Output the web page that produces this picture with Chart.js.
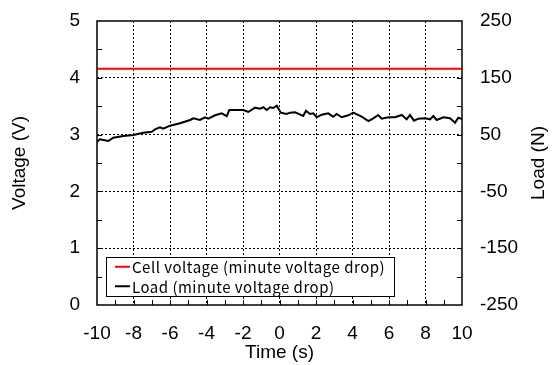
<!DOCTYPE html>
<html>
<head>
<meta charset="utf-8">
<script src="https://cdn.jsdelivr.net/npm/chart.js@4.4.0/dist/chart.umd.min.js"></script>
<style>
html,body{margin:0;padding:0;background:#fff;}
#wrap{width:553px;height:365px;position:relative;}
</style>
</head>
<body>
<div id="wrap"><canvas id="c1"></canvas></div>
<script>
// tick labels
var voltTicks=[0,1,2,3,4,5];
var loadTicks=[-250,-150,-50,50,150,250];
var timeTicks=[-10,-8,-6,-4,-2,0,2,4,6,8,10];

// cell voltage (flat)
var cellTime=[-10,10];
var cellVolt=[4.16,4.16];

// load
var loadTime=[-10,-9.84,-9.38,-9.11,-8.56,-8.01,-7.46,-7.0,-6.82,-6.55,-6.37,-6.0,-5.45,-4.9,-4.72,-4.36,-4.08,-3.9,-3.53,-3.17,
	-2.89,-2.75,-1.98,-1.71,-1.34,-1.07,-0.89,-0.7,-0.52,-0.34,-0.15,0.07,0.39,0.58,0.85,1.3,1.45,1.67,1.85,2.04,
	2.31,2.67,2.95,3.13,3.41,3.77,4.04,4.5,4.87,5.14,5.41,5.6,5.96,6.33,6.7,6.97,7.15,7.37,7.61,7.97,
	8.25,8.43,8.61,8.98,9.34,9.62,9.8,10];
var loadVal=[37.5,41.7,38.7,44.5,47.5,49.3,53.3,55.1,59.3,62.9,60.4,65.7,69.9,75.7,78.7,75.7,80.5,78.0,84.0,87.5,
	82.7,93.3,93.3,89.8,97.4,95.6,98.1,93.3,98.1,96.8,100.9,88.6,86.3,88.6,89.3,82.7,92.1,86.3,87.5,80.5,
	85.0,87.5,81.5,86.3,80.5,84.0,88.6,81.5,73.9,78.7,84.5,78.0,80.5,80.5,84.5,76.9,84.5,74.5,78.0,78.7,
	76.9,82.7,75.7,80.5,78.7,71.0,79.8,77.5];

var axisFont={family:'Arial, "Liberation Sans", sans-serif',size:19};
var rightTitle='Load (N)';

function pts(xs,ys){
	var out=[];
	for(var i=0;i<xs.length;i++){ out.push({x:xs[i],y:ys[i]}); }
	return out;
}
function fixTicks(list){
	return function(s){ s.ticks=list.map(function(v){ return {value:v}; }); };
}
function fixWidth(w){
	return function(s){ s.width=w; s.paddingTop=0; s.paddingBottom=0; };
}
function inner(v,lo,hi){ return (v>lo && v<hi) ? '#000' : 'rgba(0,0,0,0)'; }

// frame, inner tick marks, right title and the legend box
var decor={
	id:'decor',
	afterDraw:function(chart){
		var ctx=chart.ctx, ca=chart.chartArea;
		var ys=chart.scales.y, xs=chart.scales.x;
		ctx.save();
		ctx.strokeStyle='#000';
		ctx.lineWidth=1;
		ctx.beginPath();
		var v;
		for(v=0.5;v<5;v+=0.5){
			var py=Math.round(ys.getPixelForValue(v))+0.5;
			ctx.moveTo(ca.left,py); ctx.lineTo(ca.left+5,py);
			ctx.moveTo(ca.right,py); ctx.lineTo(ca.right-5,py);
		}
		for(v=-9;v<10;v+=1){
			var px=Math.round(xs.getPixelForValue(v))+0.5;
			ctx.moveTo(px,ca.bottom); ctx.lineTo(px,ca.bottom-5);
		}
		ctx.stroke();
		ctx.lineWidth=1.5;
		ctx.strokeRect(ca.left,ca.top,ca.right-ca.left,ca.bottom-ca.top);

		// right axis title, reads bottom to top like the left one
		ctx.save();
		ctx.translate(539,(ca.top+ca.bottom)/2);
		ctx.rotate(-Math.PI/2);
		ctx.font=axisFont.size+'px '+axisFont.family;
		ctx.fillStyle='#000';
		ctx.textAlign='center';
		ctx.textBaseline='middle';
		ctx.fillText(rightTitle,0,0);
		ctx.restore();

		// legend
		var sets=chart.data.datasets;
		ctx.font='15px "Noto Sans CJK JP", sans-serif';
		ctx.letterSpacing='0.5px';
		var tw=0;
		for(var i=0;i<sets.length;i++){ tw=Math.max(tw,ctx.measureText(sets[i].label).width); }
		var rowH=19.5;
		var bw=26+tw+9, bh=rowH*sets.length;
		var bx=ca.left+9, by=ca.bottom-9-bh;
		ctx.fillStyle='#fff';
		ctx.fillRect(bx,by,bw,bh);
		ctx.lineWidth=1;
		ctx.strokeRect(Math.round(bx)+0.5,Math.round(by)+0.5,Math.round(bw),Math.round(bh));
		ctx.textBaseline='middle';
		for(i=0;i<sets.length;i++){
			var cy=by+rowH*i+rowH/2;
			ctx.strokeStyle=sets[i].borderColor;
			ctx.lineWidth=2;
			ctx.beginPath();
			ctx.moveTo(bx+9,cy); ctx.lineTo(bx+24,cy);
			ctx.stroke();
			ctx.fillStyle='#000';
			ctx.fillText(sets[i].label,bx+26,cy+1);
		}
		ctx.restore();
	}
};

var ctx1=document.getElementById('c1').getContext('2d');
var myChart=new Chart(ctx1,{
	type:'line',
	data:{
		datasets:[
			{label:'Cell voltage (minute voltage drop)',data:pts(cellTime,cellVolt),yAxisID:'y',
				borderColor:'#ff0000',borderWidth:2,pointRadius:0,fill:false},
			{label:'Load (minute voltage drop)',data:pts(loadTime,loadVal),yAxisID:'y2',
				borderColor:'#000000',borderWidth:2,pointRadius:0,fill:false}
		]
	},
	options:{
		responsive:true,
		maintainAspectRatio:false,
		animation:false,
		layout:{padding:{top:21,left:0,right:0,bottom:0}},
		plugins:{legend:{display:false},tooltip:{enabled:false}},
		scales:{
			x:{type:'linear',min:-10,max:10,
				afterBuildTicks:fixTicks(timeTicks),
				afterFit:function(s){ s.height=60; },
				ticks:{font:axisFont,color:'#000',padding:17,maxRotation:0,autoSkip:false},
				grid:{drawTicks:false,lineWidth:1,color:function(c){ return inner(c.tick?c.tick.value:0,-10,10); }},
				border:{display:false,dash:[2,2]},
				title:{display:true,text:'Time (s)',font:axisFont,color:'#000',padding:{top:0,bottom:1}}
			},
			y:{position:'left',min:0,max:5,
				afterBuildTicks:fixTicks(voltTicks),
				afterFit:fixWidth(97),
				ticks:{font:axisFont,color:'#000',padding:17},
				grid:{drawTicks:false,lineWidth:1,color:function(c){ return inner(c.tick?c.tick.value:0,0,5); }},
				border:{display:false,dash:[2,2]},
				title:{display:true,text:'Voltage (V)',font:axisFont,color:'#000',padding:{top:8,bottom:0}}
			},
			y2:{position:'right',min:-250,max:250,
				afterBuildTicks:fixTicks(loadTicks),
				afterFit:fixWidth(91),
				ticks:{font:axisFont,color:'#000',padding:18},
				grid:{display:false,drawTicks:false},
				border:{display:false},
				title:{display:false}
			}
		}
	},
	plugins:[decor]
});
</script>
</body>
</html>
